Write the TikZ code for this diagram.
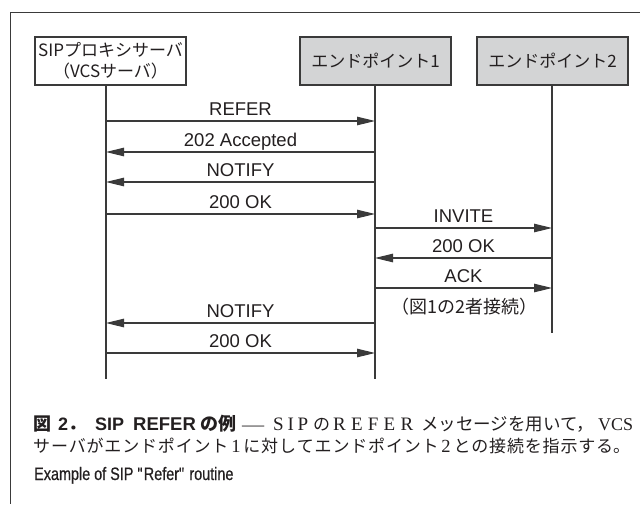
\documentclass[tikz,border=0pt]{standalone}
\usepackage{fontspec}
\usepackage{graphicx}
\setmainfont{Liberation Serif}
\setsansfont{Liberation Sans}
\newfontfamily\cjk{Noto Sans CJK JP}
\newfontfamily\exfont[FakeStretch=0.8,FakeBold=0.5]{Liberation Sans}
\usetikzlibrary{arrows.meta}
\definecolor{boxgray}{HTML}{D3D4D5}
\definecolor{ink}{HTML}{231F20}
\definecolor{linec}{HTML}{3A3A3A}
\newcommand{\spreadline}[1]{\parbox[b]{597pt}{\XeTeXlinebreaklocale "ja"\XeTeXlinebreakskip=0pt plus 3pt\noindent\parfillskip=0pt\relax #1}}
\newcommand{\seg}[2]{\makebox[#1][l]{#2}}
\newcommand{\trk}[2]{\makebox[#1][s]{#2}}
\newcommand{\serlat}{\fontsize{19}{20}\selectfont}
\tikzset{
  frameline/.style={draw=linec, line width=0.9pt},
  actor/.style={draw=linec, line width=1.2pt, minimum width=151pt, minimum height=48pt,
    inner sep=0pt, align=center, text=ink, font=\cjk\fontsize{17}{21}\selectfont},
  life/.style={draw=linec, line width=1.2pt},
  msg/.style={draw=linec, line width=1.1pt, -{Triangle[length=18pt,width=8.5pt]}},
  lbl/.style={midway, anchor=base, yshift=5.5pt, inner sep=0pt, text=ink,
    font=\sffamily\fontsize{18.5}{20}\selectfont},
  note/.style={anchor=base, inner sep=0pt, text=ink, font=\cjk\fontsize{18}{20}\selectfont},
  captxt/.style={anchor=base west, inner sep=0pt, text=ink, font=\fontsize{17}{20}\selectfont}
}
\begin{document}
\begin{tikzpicture}[x=1pt, y=-1pt]
\useasboundingbox (0,0) rectangle (640,504);
\fill[white] (0,0) rectangle (640,504);
% frame
\coordinate (ftl) at (10,12);
\coordinate (ftr) at (640,12);
\coordinate (fbl) at (10,504);
\draw[frameline] (ftr) -- (ftl) -- (fbl);
% actors
\node[actor, fill=white] (p) at (110.5,61) {SIPプロキシサーバ\\（VCSサーバ）};
\node[actor, fill=boxgray] (e1) at (375.5,61) {エンドポイント1};
\node[actor, fill=boxgray] (e2) at (552.5,61) {エンドポイント2};
% lifelines
\coordinate (l1) at (106,379);
\coordinate (l2) at (375,379);
\coordinate (l3) at (552,333);
\draw[life] (p.south -| l1) -- (l1);
\draw[life] (e1.south -| l2) -- (l2);
\draw[life] (e2.south -| l3) -- (l3);
% message rows
\coordinate (r1) at (0,121);
\coordinate (r2) at (0,152);
\coordinate (r3) at (0,182);
\coordinate (r4) at (0,214);
\coordinate (r5) at (0,228);
\coordinate (r6) at (0,258);
\coordinate (r7) at (0,288);
\coordinate (r8) at (0,323);
\coordinate (r9) at (0,353);
\draw[msg] (l1 |- r1) -- node[lbl]{REFER} (l2 |- r1);
\draw[msg] (l2 |- r2) -- node[lbl]{202 Accepted} (l1 |- r2);
\draw[msg] (l2 |- r3) -- node[lbl]{NOTIFY} (l1 |- r3);
\draw[msg] (l1 |- r4) -- node[lbl]{200 OK} (l2 |- r4);
\draw[msg] (l2 |- r5) -- node[lbl]{INVITE} (l3 |- r5);
\draw[msg] (l3 |- r6) -- node[lbl]{200 OK} (l2 |- r6);
\draw[msg] (l2 |- r7) -- node[lbl]{ACK} (l3 |- r7);
\node[note] (n1) at (464.5,313) {（図1の2者接続）};
\draw[msg] (l2 |- r8) -- node[lbl]{NOTIFY} (l1 |- r8);
\draw[msg] (l1 |- r9) -- node[lbl]{200 OK} (l2 |- r9);
% caption
\node[captxt] (cap1) at (33,430) {\seg{25pt}{\cjk\bfseries\fontsize{18}{20}\selectfont 図}\seg{37pt}{\sffamily\bfseries\fontsize{18}{20}\selectfont 2{\cjk ．}}\seg{38pt}{\sffamily\bfseries\fontsize{18}{20}\selectfont SIP}\seg{67pt}{\sffamily\bfseries\fontsize{18.5}{20}\selectfont REFER}\seg{42pt}{\cjk\bfseries\fontsize{18}{20}\selectfont の例}\seg{31pt}{\scalebox{1.3}[1]{—}}\seg{40pt}{\serlat\trk{35pt}{S\hfil I\hfil P}}\seg{20pt}{\cjk の}\seg{88pt}{\serlat\trk{80pt}{R\hfil E\hfil F\hfil E\hfil R}}\seg{177pt}{\cjk\fontsize{17.5}{20}\selectfont メッセージを用いて，}{\fontsize{18}{20}\selectfont VCS}};
\node[captxt] (cap2) at (33,452) {\spreadline{{\cjk サーバがエンドポイント}\,{\fontsize{18.5}{20}\selectfont 1}\,{\cjk に対してエンドポイント}\,{\fontsize{18.5}{20}\selectfont 2}\,{\cjk との接続を指示する。}}};
\node[captxt, font=\exfont\fontsize{18}{18}\selectfont] (cap3) at (34,480) {Example of SIP \textquotedbl Refer\textquotedbl{} routine};
\end{tikzpicture}
\end{document}
